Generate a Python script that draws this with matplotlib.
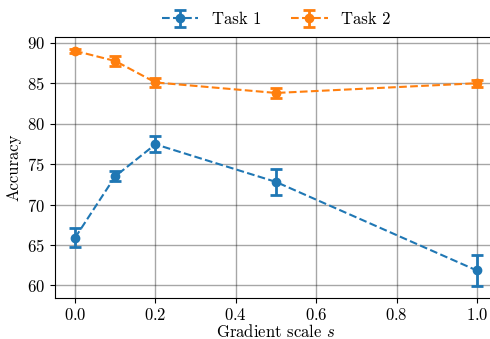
import matplotlib
matplotlib.use('Agg')
import matplotlib.pyplot as plt

plt.rcParams['font.family'] = 'serif'
plt.rcParams['font.serif'] = ['cmr10', 'DejaVu Serif']
plt.rcParams['mathtext.fontset'] = 'cm'
plt.rcParams['axes.formatter.use_mathtext'] = True
plt.rcParams['font.size'] = 12

scales = [0.0, 0.1, 0.2, 0.5, 1.0]
task1_acc = [65.9, 73.5, 77.45, 72.8, 61.85]
task1_err = [1.2, 0.6, 1.0, 1.6, 1.9]
task2_acc = [89.0, 87.75, 85.1, 83.8, 85.0]
task2_err = [0.25, 0.6, 0.55, 0.6, 0.45]

fig = plt.figure(figsize=(4.9, 3.39), dpi=100)
# the right edge of the axes runs past the figure, as in the cropped original
ax = fig.add_axes([0.1122, 0.1218, 0.902, 0.769])

style = dict(fmt='o--', markersize=6, linewidth=1.5, elinewidth=2,
             capsize=4, capthick=2)
ax.errorbar(scales, task1_acc, yerr=task1_err, color='#1f77b4', label='Task 1', **style)
ax.errorbar(scales, task2_acc, yerr=task2_err, color='#ff7f0e', label='Task 2', **style)

ax.set_xlabel('Gradient scale $s$', labelpad=0)
ax.set_ylabel('Accuracy', labelpad=4)
ax.grid(True, color='k', alpha=0.35, linewidth=1)
ax.set_axisbelow(True)

ax.legend(loc='lower center', bbox_to_anchor=(0.5, 0.98), ncol=2,
          frameon=False, columnspacing=1.8, handlelength=2.2)

fig.savefig('out.png', dpi=100)
